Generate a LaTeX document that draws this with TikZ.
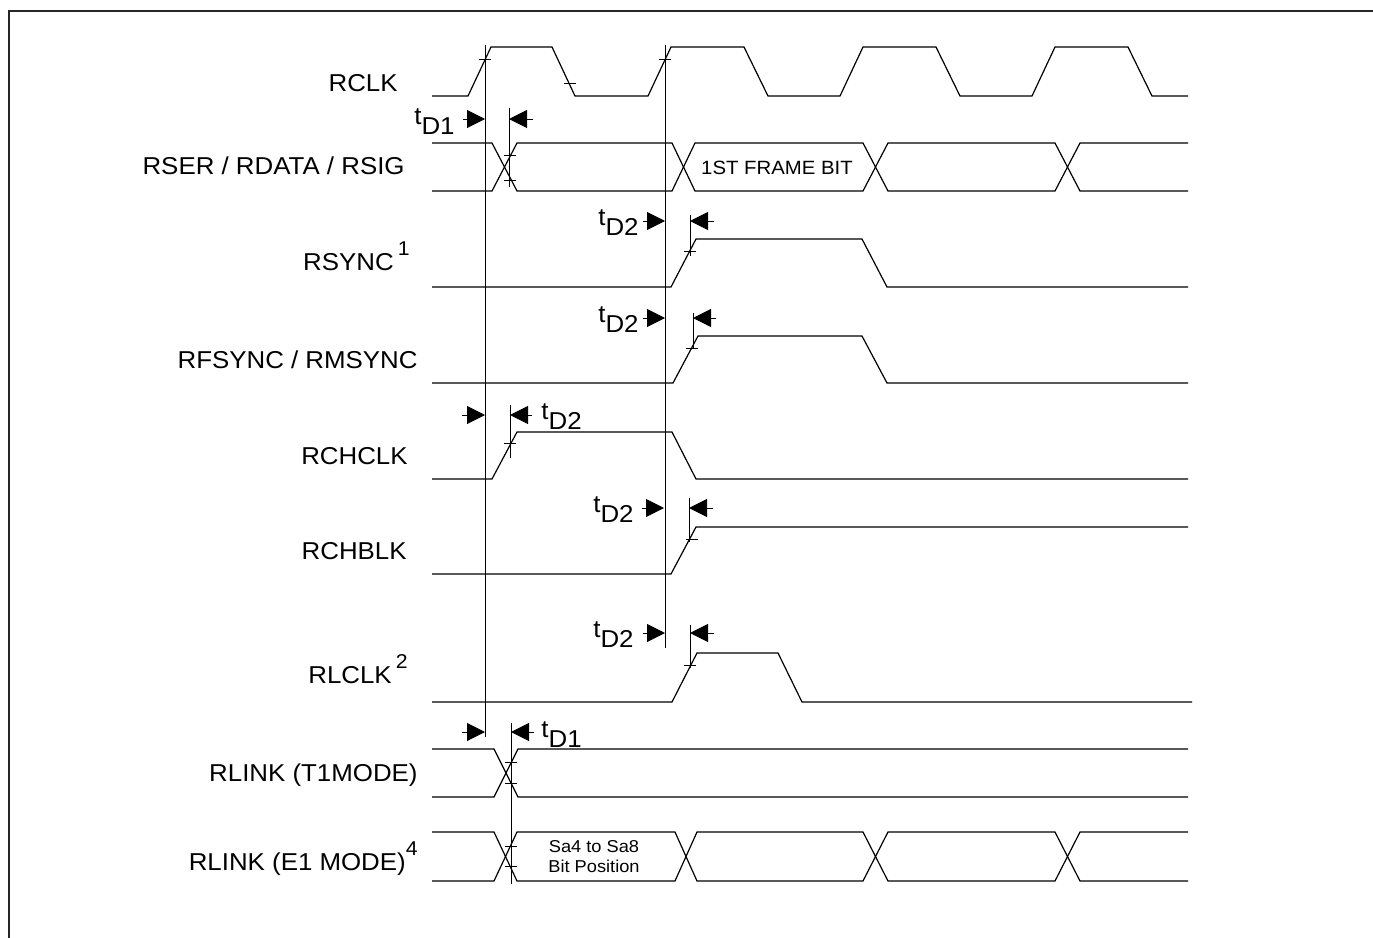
\documentclass[tikz,border=0pt]{standalone}
\usepackage{fontspec}
\setmainfont{Liberation Sans}[FakeStretch=1.06]
\usepackage{tikz}
\usetikzlibrary{arrows.meta,positioning}
\newcommand{\sigsup}[1]{\raisebox{7.5pt}{\fontsize{10}{10}\selectfont #1}}
\newcommand{\tdname}[1]{t\raisebox{-5pt}{#1}}
\tikzset{
  frame/.style={line width=1.2pt, black!85},
  wave/.style={line width=0.6pt, line join=miter},
  refline/.style={line width=0.5pt},
  tickmark/.style={line width=0.5pt},
  tdarrow/.style={-{Triangle[length=9pt,width=9pt]}, line width=0.5pt},
  signame/.style={anchor=base east, inner sep=0pt, font=\fontsize{12.2}{14}\selectfont},
  tdlabel/.style={inner sep=0pt, font=\fontsize{12.2}{14}\selectfont},
  buslabel/.style={inner sep=0pt, align=center, font=\fontsize{9.6}{11}\selectfont}
}

\begin{document}
\begin{tikzpicture}[x=0.5pt,y=-0.5pt]
  \useasboundingbox (0,0) rectangle (1373,938);
  \draw[frame] (9,938) -- (9,11) -- (1373,11);

  % signal names
  \node[signame] (rclk) at (398,91) {RCLK};
  \node[signame] (rser) at (405,174) {RSER / RDATA / RSIG};
  \node[signame] (rsync) at (410,270) {RSYNC\,\sigsup{1}};
  \node[signame] (rfsync) at (418,368) {RFSYNC / RMSYNC};
  \node[signame] (rchclk) at (408,464) {RCHCLK};
  \node[signame] (rchblk) at (407,559) {RCHBLK};
  \node[signame] (rlclk) at (408,683) {RLCLK\,\sigsup{2}};
  \node[signame] (rlinkt) at (418,781) {RLINK (T1MODE)};
  \node[signame] (rlinke) at (418,870) {RLINK (E1 MODE)\sigsup{4}};

  % reference lines from RCLK
  \draw[refline] (485,45) -- (485,737);
  \draw[refline] (665,45) -- (665,648);

  % RCLK
  \draw[wave] (432,96) -- (468,96) -- (491,47) -- (552,47) -- (575,96) -- (648,96) -- (671,47) -- (744,47)
    -- (768,96) -- (840,96) -- (863,47) -- (936,47) -- (960,96) -- (1032,96) -- (1055,47) -- (1128,47)
    -- (1152,96) -- (1188,96);
  \draw[tickmark] (479,59) -- (491,59);
  \draw[tickmark] (564,83) -- (576,83);
  \draw[tickmark] (659,59) -- (671,59);

  % RSER / RDATA / RSIG
  \draw[wave] (432,143) -- (492,143) -- (517,191) -- (672,191) -- (695,143) -- (863,143) -- (888,191)
    -- (1055,191) -- (1080,143) -- (1188,143);
  \draw[wave] (432,191) -- (492,191) -- (517,143) -- (672,143) -- (695,191) -- (863,191) -- (888,143)
    -- (1055,143) -- (1080,191) -- (1188,191);
  \node[buslabel] (frmbit) at (777,168) {1ST FRAME BIT};
  \draw[tickmark] (504,155) -- (516,155);
  \draw[tickmark] (504,180) -- (516,180);
  \draw[refline] (509,108) -- (509,187);
  \draw[tdarrow] (463,119) -- (485,119);
  \draw[tdarrow] (533,119) -- (509,119);
  \node[tdlabel, anchor=base east] (tdser) at (455,124) {\tdname{D1}};

  % RSYNC
  \draw[wave] (432,287) -- (671,287) -- (696,239) -- (862,239) -- (887,287) -- (1188,287);
  \draw[tickmark] (684,251) -- (696,251);
  \draw[refline] (690,215) -- (690,256);
  \draw[tdarrow] (643,221) -- (665,221);
  \draw[tdarrow] (714,221) -- (690,221);
  \node[tdlabel, anchor=base east] (tdsync) at (639,225) {\tdname{D2}};

  % RFSYNC / RMSYNC
  \draw[wave] (432,383) -- (673,383) -- (698,336) -- (862,336) -- (887,383) -- (1188,383);
  \draw[tickmark] (686,348) -- (698,348);
  \draw[refline] (693,313) -- (693,349);
  \draw[tdarrow] (643,318) -- (665,318);
  \draw[tdarrow] (716,318) -- (693,318);
  \node[tdlabel, anchor=base east] (tdfsync) at (639,322) {\tdname{D2}};

  % RCHCLK
  \draw[wave] (432,479) -- (492,479) -- (517,432) -- (672,432) -- (696,479) -- (1188,479);
  \draw[tickmark] (504,443) -- (516,443);
  \draw[refline] (510,405) -- (510,458);
  \draw[tdarrow] (462,415) -- (485,415);
  \draw[tdarrow] (532,415) -- (510,415);
  \node[tdlabel, anchor=base west] (tdchclk) at (541,419) {\tdname{D2}};

  % RCHBLK
  \draw[wave] (432,574) -- (671,574) -- (696,527) -- (1188,527);
  \draw[tickmark] (686,539) -- (698,539);
  \draw[refline] (689,498) -- (689,542);
  \draw[tdarrow] (642,508) -- (664,508);
  \draw[tdarrow] (713,508) -- (689,508);
  \node[tdlabel, anchor=base east] (tdchblk) at (634,512) {\tdname{D2}};

  % RLCLK
  \draw[wave] (432,702) -- (672,702) -- (697,653) -- (778,653) -- (802,702) -- (1192,702);
  \draw[tickmark] (684,665) -- (696,665);
  \draw[refline] (690,625) -- (690,668);
  \draw[tdarrow] (643,633) -- (665,633);
  \draw[tdarrow] (714,633) -- (690,633);
  \node[tdlabel, anchor=base east] (tdlclk) at (634,637) {\tdname{D2}};

  % RLINK (T1MODE)
  \draw[wave] (432,749) -- (494,749) -- (518,797) -- (1188,797);
  \draw[wave] (432,797) -- (494,797) -- (518,749) -- (1188,749);
  \draw[tickmark] (505,762) -- (517,762);
  \draw[tickmark] (505,783) -- (517,783);
  \draw[refline] (511,723) -- (511,884);
  \draw[tdarrow] (462,732) -- (485,732);
  \draw[tdarrow] (534,732) -- (511,732);
  \node[tdlabel, anchor=base west] (tdlink) at (541,737) {\tdname{D1}};

  % RLINK (E1 MODE)
  \draw[wave] (432,832) -- (494,832) -- (517,881) -- (675,881) -- (697,832) -- (863,832) -- (888,881)
    -- (1055,881) -- (1080,832) -- (1188,832);
  \draw[wave] (432,881) -- (494,881) -- (517,832) -- (675,832) -- (697,881) -- (863,881) -- (888,832)
    -- (1055,832) -- (1080,881) -- (1188,881);
  \draw[tickmark] (505,846) -- (517,846);
  \draw[tickmark] (505,866) -- (517,866);
  \node[buslabel, font=\fontsize{8.6}{10}\selectfont] (sabits) at (594,857) {Sa4 to Sa8\\Bit Position};
\end{tikzpicture}
\end{document}
